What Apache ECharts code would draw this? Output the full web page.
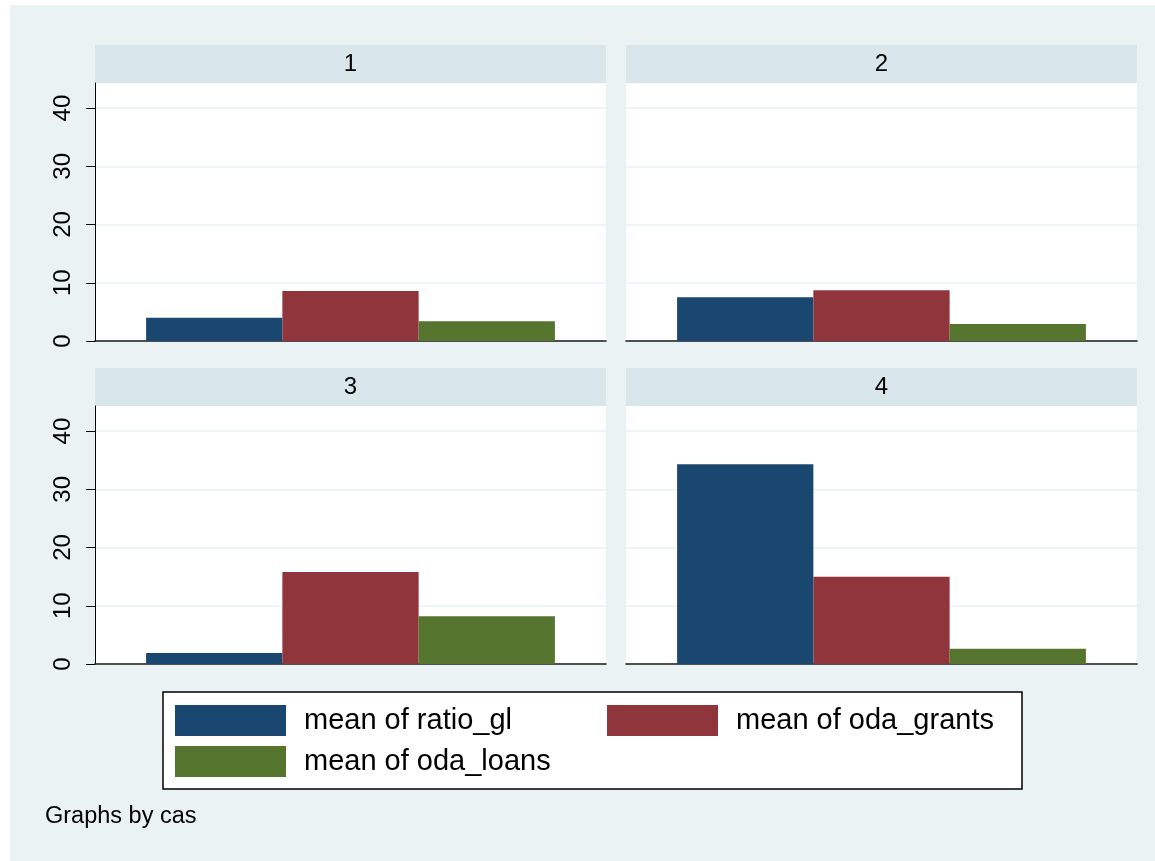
<!DOCTYPE html>
<html>
<head>
<meta charset="utf-8">
<script src="https://cdn.jsdelivr.net/npm/echarts@6/dist/echarts.min.js"></script>
<style>
  html, body { margin: 0; padding: 0; background: #ffffff; }
  #wrap { position: relative; width: 1155px; height: 861px; }
  #bg { position: absolute; left: 10px; top: 5px; width: 1145px; height: 856px; background: #EAF2F3; }
  #chart { position: absolute; left: 0; top: 0; width: 1155px; height: 861px; }
</style>
</head>
<body>
<div id="wrap"><div id="bg"></div><div id="chart"></div></div>
<script>
// Panels (one per value of cas)
const panelTitles = ['1', '2', '3', '4'];
// Series names
const seriesNames = ['mean of ratio_gl', 'mean of oda_grants', 'mean of oda_loans'];
// Mean values per panel, in panel order 1..4
const ratioGl   = [4.0, 7.5, 1.9, 34.3];
const odaGrants = [8.6, 8.7, 15.8, 15.0];
const odaLoans  = [3.4, 2.9, 8.2, 2.6];
// Y axis ticks
const yTicks = [0, 10, 20, 30, 40];
const yMax = 44.3;

const colors = ['#1A476F', '#90353B', '#55752F'];
const seriesValues = [ratioGl, odaGrants, odaLoans];

const FONT = '"Liberation Sans", Arial, Helvetica, sans-serif';

// panel rectangles: plot area
const panelW = 511, plotH = 258, headH = 38;
const lefts = [95, 626, 95, 626];
const tops = [83, 83, 406, 406];
// only the left column carries a y axis
const showY = [true, false, true, false];

const grids = [], xAxes = [], yAxes = [], series = [], graphics = [];

panelTitles.forEach((t, i) => {
  grids.push({
    left: lefts[i], top: tops[i], width: panelW, height: plotH,
    show: true, backgroundColor: '#ffffff', borderWidth: 0, containLabel: false
  });
  xAxes.push({
    type: 'category', gridIndex: i, data: [t],
    axisLine: { show: true, onZero: false, lineStyle: { color: '#1a1a1a', width: 1.6 } },
    axisTick: { show: false }, axisLabel: { show: false }, splitLine: { show: false }
  });
  yAxes.push({
    type: 'value', gridIndex: i, min: 0, max: yMax,
    axisLine: { show: showY[i], lineStyle: { color: '#000000', width: 1 } },
    axisTick: { show: showY[i], length: 9, customValues: yTicks, lineStyle: { color: '#000000', width: 1 } },
    axisLabel: {
      show: showY[i], customValues: yTicks, rotate: 90, margin: 20,
      fontFamily: FONT, fontSize: 24, color: '#000000'
    },
    splitLine: { show: true, lineStyle: { color: '#EAF2F3', width: 1.5 } }
  });
  seriesNames.forEach((name, s) => {
    series.push({
      type: 'bar', name: name, xAxisIndex: i, yAxisIndex: i,
      data: [seriesValues[s][i]],
      barGap: '0%', barCategoryGap: '20%',
      itemStyle: { color: colors[s] },
      emphasis: { disabled: true },
      animation: false
    });
  });
  // header strip with panel title
  graphics.push({
    type: 'rect', shape: { x: lefts[i], y: tops[i] - headH, width: panelW, height: headH },
    style: { fill: '#D9E6EB' }, silent: true
  });
  graphics.push({
    type: 'text', x: lefts[i] + panelW / 2, y: tops[i] - headH / 2,
    style: { text: t, font: '24px ' + FONT, fill: '#000000', textAlign: 'center', textVerticalAlign: 'middle' },
    silent: true
  });
});

// legend frame
graphics.push({
  type: 'rect', shape: { x: 163, y: 692, width: 859, height: 97 },
  style: { fill: '#ffffff', stroke: '#000000', lineWidth: 1.5 }, silent: true, z: 0
});
// note
graphics.push({
  type: 'text', x: 45, y: 817,
  style: { text: 'Graphs by cas', font: '23.5px ' + FONT, fill: '#000000', textAlign: 'left', textVerticalAlign: 'middle' },
  silent: true
});

const legendCommon = {
  orient: 'vertical', icon: 'rect', itemWidth: 111, itemHeight: 31, itemGap: 10,
  padding: 0, selectedMode: false,
  textStyle: { fontFamily: FONT, fontSize: 29, color: '#000000', padding: [7, 0, 0, 13] },
  z: 10
};

const option = {
  backgroundColor: 'transparent',
  animation: false,
  grid: grids,
  xAxis: xAxes,
  yAxis: yAxes,
  series: series,
  legend: [
    Object.assign({}, legendCommon, { left: 175, top: 705, data: [seriesNames[0], seriesNames[2]] }),
    Object.assign({}, legendCommon, { left: 607, top: 705, data: [seriesNames[1]] })
  ],
  graphic: graphics
};

const chart = echarts.init(document.getElementById('chart'), null, { renderer: 'canvas' });
chart.setOption(option);
</script>
</body>
</html>
